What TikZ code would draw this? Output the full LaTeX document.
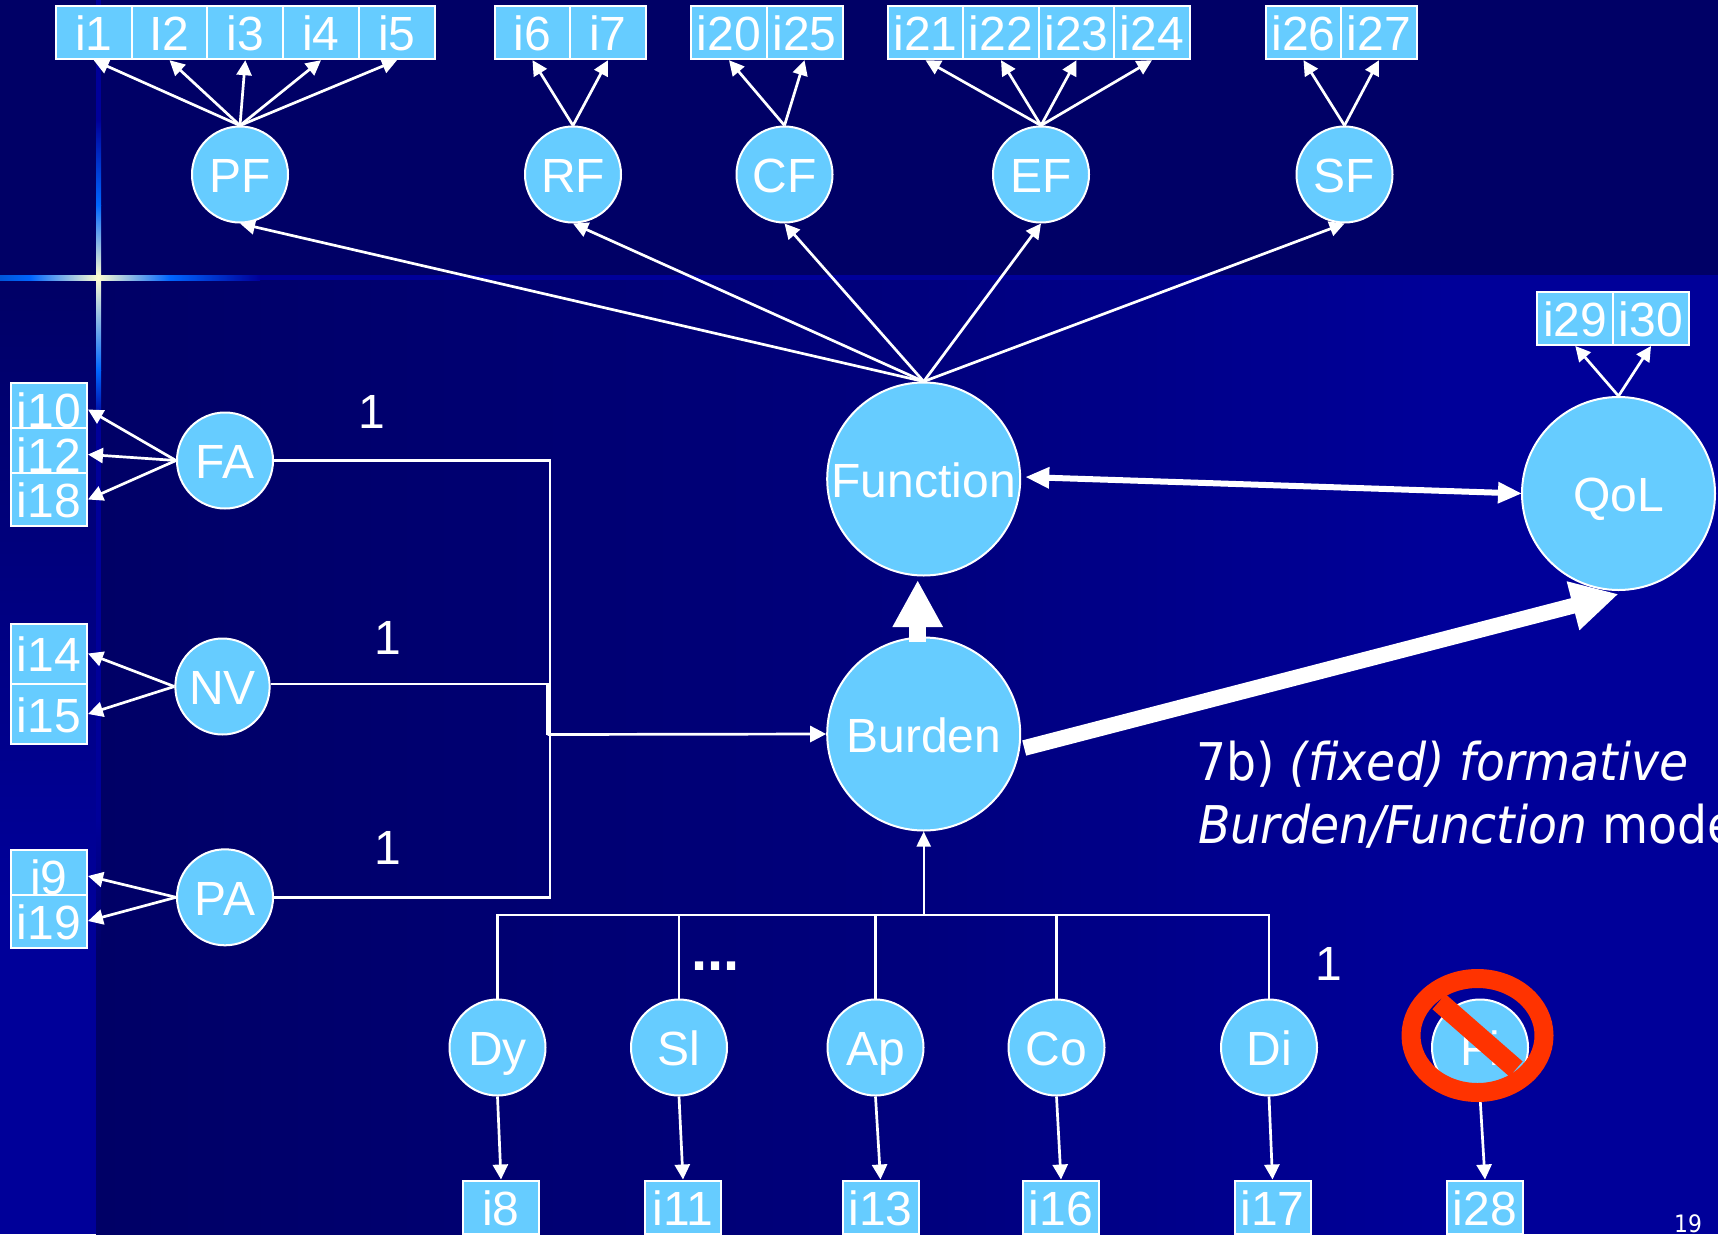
\documentclass[tikz,border=0pt]{standalone}
\usepackage{fontspec}
\usetikzlibrary{arrows.meta,shapes.geometric}
\setmainfont{Liberation Sans}
\newfontfamily\slidefont[FakeStretch=0.91]{DejaVu Sans}
\definecolor{navy}{HTML}{000066}
\definecolor{royal}{HTML}{000099}
\definecolor{midnavy}{HTML}{00007C}
\definecolor{sky}{HTML}{66CCFF}
\definecolor{flash}{HTML}{0066FF}
\definecolor{pale}{HTML}{FFFDD0}
\definecolor{nored}{HTML}{FF3300}
\tikzset{
  base font/.style={font=\fontsize{48}{50}\selectfont,text=white},
  latent/.style={base font,circle,draw=white,line width=2pt,fill=sky,inner sep=0pt,text height=40pt,text depth=4pt},
  item/.style={base font,rectangle,draw=white,line width=2pt,fill=sky,inner sep=0pt,text height=40pt,text depth=4pt,minimum width=76pt,minimum height=53pt},
  lnk/.style={draw=white,line width=2.7pt,-{Triangle[length=15pt,width=15pt]}},
  plain/.style={draw=white,line width=2.7pt},
  num/.style={base font,inner sep=0pt},
}
\begin{document}
\begin{tikzpicture}[x=1pt,y=-1pt]
\useasboundingbox (0,0) rectangle (1718,1234);
\clip (0,0) rectangle (1718,1234);
% background
\fill[navy] (0,0) rectangle (1718,280);
\shade[top color=navy,bottom color=royal,shading angle=0] (0,280) rectangle (96,900);
\fill[royal] (0,900) rectangle (96,1234);
\shade[left color=navy,right color=midnavy] (96,280) rectangle (900,1234);
\shade[left color=midnavy,right color=royal] (900,280) rectangle (1450,1234);
\fill[royal] (1450,280) rectangle (1718,1234);
% cross
\fill[royal] (96,0) rectangle (101,120);
\shade[top color=royal,bottom color=flash] (96,120) rectangle (101,205);
\shade[top color=flash,bottom color=pale] (96,205) rectangle (101,277);
\shade[top color=pale,bottom color=flash] (96,277) rectangle (101,370);
\shade[top color=flash,bottom color=royal] (96,370) rectangle (101,420);
\fill[royal] (96,420) rectangle (101,820);
\shade[top color=royal,bottom color=navy] (96,820) rectangle (101,950);
\shade[left color=flash!85!black,right color=flash] (0,275) rectangle (30,280);
\shade[left color=flash,right color=pale] (30,275) rectangle (98,280);
\shade[left color=pale,right color=flash] (98,275) rectangle (170,280);
\shade[left color=flash,right color=royal] (170,275) rectangle (260,280);
\fill[royal] (260,275) rectangle (1718,280);
% items top
\node[item] (i1) at (93.7,32.7) {i1};
\node[item] (i2) at (169.5,32.7) {I2};
\node[item] (i3) at (245.3,32.7) {i3};
\node[item] (i4) at (321,32.7) {i4};
\node[item] (i5) at (397,32.7) {i5};
\node[item] (i6) at (532.5,32.7) {i6};
\node[item] (i7) at (608,32.7) {i7};
\node[item] (i20) at (729,32.7) {i20};
\node[item] (i25) at (804.5,32.7) {i25};
\node[item] (i21) at (925.5,32.7) {i21};
\node[item] (i22) at (1001,32.7) {i22};
\node[item] (i23) at (1076.5,32.7) {i23};
\node[item] (i24) at (1152,32.7) {i24};
\node[item] (i26) at (1303.5,32.7) {i26};
\node[item] (i27) at (1379,32.7) {i27};
\node[item] (i29) at (1575.3,318.5) {i29};
\node[item] (i30) at (1651,318.5) {i30};
% items left
\node[item] (i10) at (49,409.5) {i10};
\node[item] (i12) at (49,454.5) {i12};
\node[item] (i18) at (49,499.5) {i18};
\node[item,minimum height=60pt] (i14) at (49,653.5) {i14};
\node[item,minimum height=60pt] (i15) at (49,714) {i15};
\node[item] (i9) at (49,876) {i9};
\node[item] (i19) at (49,921) {i19};
% items bottom
\node[item] (i8) at (501,1207) {i8};
\node[item] (i11) at (683,1207) {i11};
\node[item] (i13) at (880.5,1207) {i13};
\node[item] (i16) at (1061,1207) {i16};
\node[item] (i17) at (1272.5,1207) {i17};
\node[item] (i28) at (1485,1207) {i28};
% latent
\tikzset{small/.style={latent,minimum size=96pt},big/.style={latent,minimum size=193pt}}
\node[small] (PF) at (240,174.5) {PF};
\node[small] (RF) at (573,174.5) {RF};
\node[small] (CF) at (784.5,174.5) {CF};
\node[small] (EF) at (1041,174.5) {EF};
\node[small] (SF) at (1344.5,174.5) {SF};
\node[small] (FA) at (225,460.5) {FA};
\node[base font,ellipse,draw=white,line width=2pt,fill=sky,inner sep=0pt,text height=40pt,text depth=4pt,minimum width=92pt,minimum height=96pt] (NV) at (222.5,686.5) {NV};
\node[small] (PA) at (225,897.3) {PA};
\node[big] (Function) at (923.7,479) {Function};
\node[big] (QoL) at (1618.5,493.5) {QoL};
\node[big] (Burden) at (923.7,734) {Burden};
\node[small] (Dy) at (497.5,1047.5) {Dy};
\node[small] (Sl) at (679,1047.5) {Sl};
\node[small] (Ap) at (875.5,1047.5) {Ap};
\node[small] (Co) at (1056.5,1047.5) {Co};
\node[small] (Di) at (1269,1047.5) {Di};
\node[small] (Fi) at (1480,1047.5) {Fi};
% indicator arrows
\foreach \a/\b in {PF/i1,PF/i2,PF/i3,PF/i4,PF/i5,RF/i6,RF/i7,CF/i20,CF/i25,EF/i21,EF/i22,EF/i23,EF/i24,SF/i26,SF/i27,QoL/i29,QoL/i30}
  \draw[lnk] (\a.north) -- (\b.south);
\foreach \b in {PF,RF,CF,EF,SF}
  \draw[lnk] (Function.north) -- (\b.south);
\foreach \a/\b in {FA/i10,FA/i12,FA/i18,NV/i14,NV/i15,PA/i9,PA/i19}
  \draw[lnk] (\a.west) -- (\b.east);
\foreach \a/\b in {Dy/i8,Sl/i11,Ap/i13,Co/i16,Di/i17,Fi/i28}
  \draw[lnk] (\a.south) -- (\b.north);
% structure
\coordinate (busB) at (923.7,915);
\draw[plain,line join=miter] (FA.east) -- (550,460.5) -- (550,897.3) -- (PA.east);
\coordinate (jn) at (547.7,734.5);
\draw[plain,line join=miter] ([yshift=2.5pt]NV.east) -- (547.7,684) -- (jn);
\draw[lnk,-{Triangle[length=16pt,width=16pt]}] (jn) -- (Burden.west);
\draw[plain,line width=2.3pt,line join=miter] (Dy.north) -- (497.5,915) -- (1269,915) -- (Di.north);
\draw[plain,line width=2.3pt] (Sl.north) -- (679,915);
\draw[plain,line width=2.3pt] (Ap.north) -- (875.5,915);
\draw[plain,line width=2.3pt] (Co.north) -- (1056.5,915);
\draw[lnk,line width=2.3pt,-{Triangle[length=15pt,width=14pt]}] (busB) -- (Burden.south);
% thick arrows
\draw[draw=white,line width=6pt,{Triangle[length=24pt,width=20pt]}-{Triangle[length=24pt,width=20pt]}] ([xshift=4pt,yshift=2pt]Function.east) -- ([xshift=1pt]QoL.west);
\draw[draw=white,line width=17pt,-{Triangle[length=47pt,width=47pt]}] ([xshift=-6pt,yshift=-5pt]Burden.north) -- ([xshift=-6pt,yshift=-3.5pt]Function.south);
\draw[draw=white,line width=15.7pt,-{Triangle[length=47pt,width=47pt]}] ([xshift=3pt,yshift=-14pt]Burden.east) -- ([yshift=-3pt]QoL.south);
% prohibition
\draw[nored,line width=19pt] (1477.5,1035.5) ellipse [x radius=66.5,y radius=57];
\draw[nored,line width=20pt] (1439,1001.7) -- (1516,1069);
% text
\node[num] (one1) at (372,412) {1};
\node[num] (one2) at (387.5,638) {1};
\node[num] (one3) at (387.5,848) {1};
\node[num] (one4) at (1329,964) {1};
\node[base font,inner sep=0pt,anchor=base,font=\fontsize{58}{60}\selectfont\bfseries] (dots) at (715.5,970) {...};
\node[anchor=base west,inner sep=0pt,text=white,font=\slidefont\fontsize{52}{56}\selectfont] (cap1) at (1196,780) {7b) \itshape (fixed) formative};
\node[anchor=base west,inner sep=0pt,text=white,font=\slidefont\fontsize{52}{56}\selectfont] (cap2) at (1198,843) {\itshape Burden/Function \upshape model};
\node[anchor=base,inner sep=0pt,text=white,font=\slidefont\fontsize{24}{26}\selectfont] (pageno) at (1688,1232) {19};
\end{tikzpicture}
\end{document}
